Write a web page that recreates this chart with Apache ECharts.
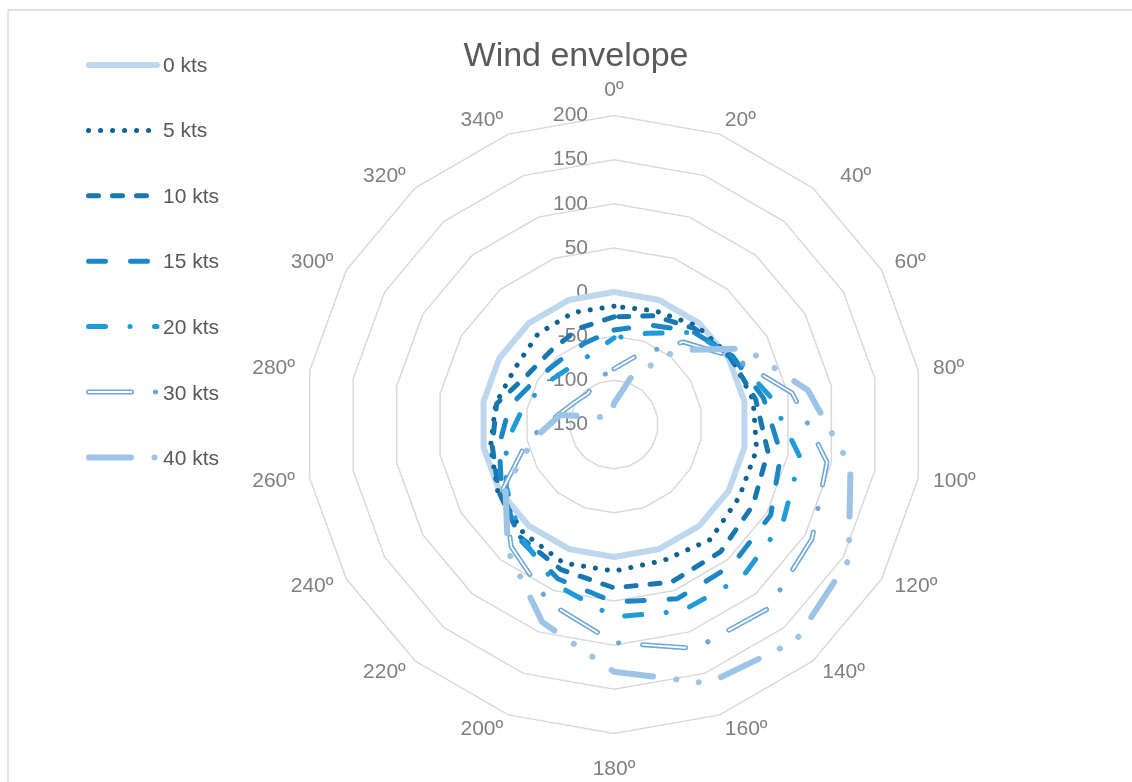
<!DOCTYPE html>
<html>
<head>
<meta charset="utf-8">
<script src="https://cdn.jsdelivr.net/npm/echarts@6/dist/echarts.min.js"></script>
<style>
html,body{margin:0;padding:0;background:#fff;}
#chart{width:1132px;height:782px;}
</style>
</head>
<body>
<div id="chart"></div>
<script>
// ---- data ----
const angleLabels = ['0º','20º','40º','60º','80º','100º','120º','140º','160º','180º','200º','220º','240º','260º','280º','300º','320º','340º'];
const seriesNames = ['0 kts','5 kts','10 kts','15 kts','20 kts','30 kts','40 kts'];
const kts0  = [0,0,0,0,0,0,0,0,0,0,0,0,0,0,0,0,0,0];
const kts5  = [-16,-13,-4,3,10,14,14,20,14,16,17,10,2,-8,-14,-21,-16,-15];
const kts10 = [-28,-19,-8,2,13,27,32,38,40,35,25,16,1,-10,-15,-37,-40,-34];
const kts15 = [-43,-30,-12,5,22,42,55,58,60,51,36,18,-3,-18,-30,-48,-55,-52];
const kts20 = [-52,-40,-14,6,30,64,71,76,75,68,43,15,-9,-26,-45,-59,-68,-67];
const kts30 = [-87,-65,-28,4,55,95,109,122,120,97,65,31,-5,-51,-86,-99,-104,-95];
const kts40 = [-126,-93,-40,22,73,122,157,170,162,130,88,37,-8,-58,-88,-133,-139,-140];
const axisMin = -150, axisMax = 200, axisStep = 50;

const values = [kts0, kts5, kts10, kts15, kts20, kts30, kts40];

const RADIUS = 309;

// ---- styles ----  (phase = clockwise path length from 0º where a dash begins)
const styles = [
  {color:'#bdd7ee', width:6, dash:null},
  {color:'#0e6394', width:5,   dash:[0.1, 11.9], phase:0},
  {color:'#1777b0', width:5,   dash:[10, 14], phase:0},
  {color:'#1c87c7', width:5,   dash:[17, 25], phase:459.8},
  {color:'#1f9bd8', width:5,   dash:[17, 24.5, 0.1, 24.4], phase:229.5},
  {color:'#6ea6da', width:5,   dash:[43, 24, 0.1, 24], phase:71.5,
     inner:{color:'#ffffff', width:1.8, dash:[43, 48.1]}},
  {color:'#9dc3e6', width:6, dash:[42, 23.5, 0.1, 22.5, 0.1, 23.5], phase:100.1}
];

// echarts radar lays indicators counter-clockwise: reverse all but the first
const idx = [0].concat(angleLabels.map((_, i) => i).slice(1).reverse());

const indicator = idx.map((i, k) => {
  const o = {name: angleLabels[i], min: axisMin, max: axisMax};
  if (k === 0) o.axisLabel = {show: true};
  return o;
});

// perimeter of a series polygon (used only to set the dash phase)
function perimeter(vals) {
  const n = vals.length;
  const p = vals.map((v, k) => {
    const r = (v - axisMin) / (axisMax - axisMin) * RADIUS;
    const a = k * 2 * Math.PI / n;
    return [r * Math.sin(a), -r * Math.cos(a)];
  });
  let L = 0;
  for (let k = 0; k < n; k++) {
    const q = p[(k + 1) % n];
    L += Math.hypot(q[0] - p[k][0], q[1] - p[k][1]);
  }
  return L;
}
function dashOffsetFor(s, vals) {
  if (!s.dash || !s.phase) return 0;
  const P = s.dash.reduce((a, b) => a + b, 0);
  const L = perimeter(vals);
  // path is drawn counter-clockwise, so mirror the clockwise phase
  const d = (s.phase + s.dash[0] - L) % P;
  return (d + P) % P;
}

function lineStyleOf(s, offset) {
  const ls = {color: s.color, width: s.width, cap: 'round', join: 'round', opacity: 1};
  if (s.dash) { ls.type = s.dash; ls.dashOffset = offset || 0; }
  return ls;
}

const series = [];
seriesNames.forEach((name, si) => {
  const s = styles[si];
  const off = dashOffsetFor(s, values[si]);
  series.push({
    type: 'radar', name: name, symbol: 'none', silent: true,
    lineStyle: lineStyleOf(s, off), itemStyle: {color: s.color},
    data: [{name: name, value: idx.map(i => values[si][i])}],
    z: 2 + si
  });
  if (s.inner) {
    series.push({
      type: 'radar', name: name, symbol: 'none', silent: true,
      lineStyle: lineStyleOf(s.inner, off), itemStyle: {color: s.color},
      data: [{name: name, value: idx.map(i => values[si][i])}],
      z: 2 + si
    });
  }
});

// legend line samples (drawn beside the legend text)
const legendX0 = 86, legendX1 = 157, legendY0 = 65, legendStep = 65.4;
const graphics = [{
  type: 'rect', shape: {x: 8, y: 10, width: 1135, height: 790},
  style: {fill: 'none', stroke: '#d9d9d9', lineWidth: 1.3}, silent: true
}];
styles.forEach((s, si) => {
  const y = legendY0 + si * legendStep;
  graphics.push({
    type: 'line', shape: {x1: legendX0 + s.width / 2, y1: y, x2: legendX1, y2: y},
    style: {stroke: s.color, lineWidth: s.width, lineCap: 'round', lineDash: s.dash || null},
    silent: true
  });
  if (s.inner) {
    graphics.push({
      type: 'line', shape: {x1: legendX0 + s.width / 2, y1: y, x2: legendX1, y2: y},
      style: {stroke: s.inner.color, lineWidth: s.inner.width, lineCap: 'round', lineDash: s.inner.dash},
      silent: true
    });
  }
});

const FONT = 'Liberation Sans, Arial, sans-serif';
const chart = echarts.init(document.getElementById('chart'), null, {renderer: 'canvas'});
chart.setOption({
  animation: false,
  backgroundColor: '#ffffff',
  title: {
    text: 'Wind envelope', left: 571, top: 35, textAlign: 'center',
    textStyle: {fontFamily: FONT, fontSize: 34, fontWeight: 'normal', color: '#595959'}
  },
  legend: {
    orient: 'vertical', left: legendX0, top: 49,
    itemWidth: 67, itemHeight: 24, itemGap: 43.05,
    icon: 'none', selectedMode: false,
    data: seriesNames,
    textStyle: {fontFamily: FONT, fontSize: 21, color: '#595959'}
  },
  radar: {
    center: [614, 424.5], radius: RADIUS,
    startAngle: 90, shape: 'polygon',
    splitNumber: (axisMax - axisMin) / axisStep,
    indicator: indicator,
    nameGap: 15,
    axisName: {
      color: '#7f7f7f', fontSize: 21, fontFamily: FONT,
      formatter: function (name) {
        if (name === '180º') return '{b|' + name + '}';
        if (name === '40º') return '{c|' + name + '}';
        return name;
      },
      rich: {
        b: {color: '#7f7f7f', fontSize: 21, fontFamily: FONT, padding: [10, 0, 0, 0]},
        c: {color: '#7f7f7f', fontSize: 21, fontFamily: FONT, padding: [0, 0, 0, 18]}
      }
    },
    axisLine: {show: false},
    axisTick: {show: false},
    axisLabel: {show: false, color: '#7f7f7f', fontSize: 21, fontFamily: FONT, margin: 26},
    splitLine: {lineStyle: {color: '#d9d9d9', width: 1.5}},
    splitArea: {show: false}
  },
  graphic: graphics,
  series: series
});
</script>
</body>
</html>
